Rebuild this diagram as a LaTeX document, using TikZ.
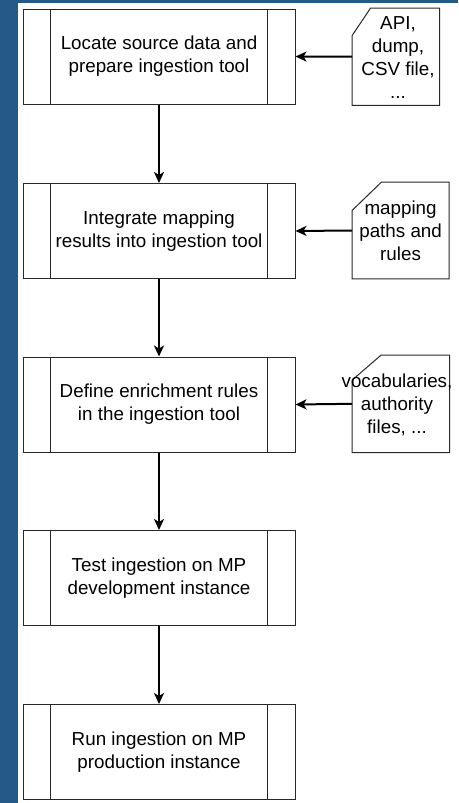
\documentclass[tikz,border=0pt]{standalone}
\usepackage{fontspec}
\setmainfont{Liberation Sans}
\usetikzlibrary{arrows.meta}
\definecolor{bgblue}{RGB}{36,89,136}
\definecolor{boxc}{RGB}{40,40,40}
\tikzset{
  process/.style={draw=boxc, line width=1pt, minimum width=272pt, minimum height=95pt,
    inner sep=0pt, align=center, font=\fontsize{18.8}{23}\selectfont,
    path picture={
      \draw[boxc, line width=1pt] ([xshift=27.5pt]path picture bounding box.north west) -- ([xshift=27.5pt]path picture bounding box.south west);
      \draw[boxc, line width=1pt] ([xshift=-27.5pt]path picture bounding box.north east) -- ([xshift=-27.5pt]path picture bounding box.south east);
    }},
  docnode/.style={draw=none, inner sep=0pt, align=center, font=\fontsize{18.8}{23}\selectfont},
  cardline/.style={draw=boxc, line width=1pt},
  arr/.style={draw=black, line width=2pt, -{Stealth[length=11pt, width=10pt, inset=3pt]}}
}
\begin{document}
\begin{tikzpicture}[x=1pt,y=-1pt]
\useasboundingbox (0,0) rectangle (458,803);
\fill[bgblue] (0,0) rectangle (458,803);
\fill[white] (18,3) rectangle (458,803);

\node[process] (b1) at (159,56.5) {Locate source data and\\prepare ingestion tool};
\node[process] (b2) at (159,231) {Integrate mapping\\results into ingestion tool};
\node[process] (b3) at (159,404.5) {Define enrichment rules\\in the ingestion tool};
\node[process] (b4) at (159,578) {Test ingestion on MP\\development instance};
\node[process] (b5) at (159,752) {Run ingestion on MP\\production instance};

\node[docnode, minimum width=87pt, minimum height=96.7pt] (d1) at (395.8,56.7) {};
\draw[cardline] ([yshift=-27.4pt]d1.north west) -- ([xshift=18.4pt]d1.north west) -- (d1.north east) -- (d1.south east) -- (d1.south west) -- cycle;
\node[docnode] (t1) at (398,57.5) {API,\\dump,\\CSV file,\\...};

\node[docnode, minimum width=96.7pt, minimum height=96.4pt] (d2) at (400.6,230.5) {};
\draw[cardline] ([yshift=-28.4pt]d2.north west) -- ([xshift=29.4pt]d2.north west) -- (d2.north east) -- (d2.south east) -- (d2.south west) -- cycle;
\node[docnode] (t2) at (400.6,231) {mapping\\paths and\\rules};

\node[docnode, minimum width=97pt, minimum height=97pt] (d3) at (400.8,403.8) {};
\draw[cardline] ([yshift=-25pt]d3.north west) -- ([xshift=29pt]d3.north west) -- (d3.north east) -- (d3.south east) -- (d3.south west) -- cycle;
\node[docnode] (t3) at (397,404.5) {vocabularies,\\authority\\files, ...};

\draw[arr] (d1.west) -- (b1.east);
\draw[arr] (d2.west) -- (b2.east);
\draw[arr] (d3.west) -- (b3.east);
\draw[arr] (b1.south) -- (b2.north);
\draw[arr] (b2.south) -- (b3.north);
\draw[arr] (b3.south) -- (b4.north);
\draw[arr] (b4.south) -- (b5.north);
\end{tikzpicture}
\end{document}
